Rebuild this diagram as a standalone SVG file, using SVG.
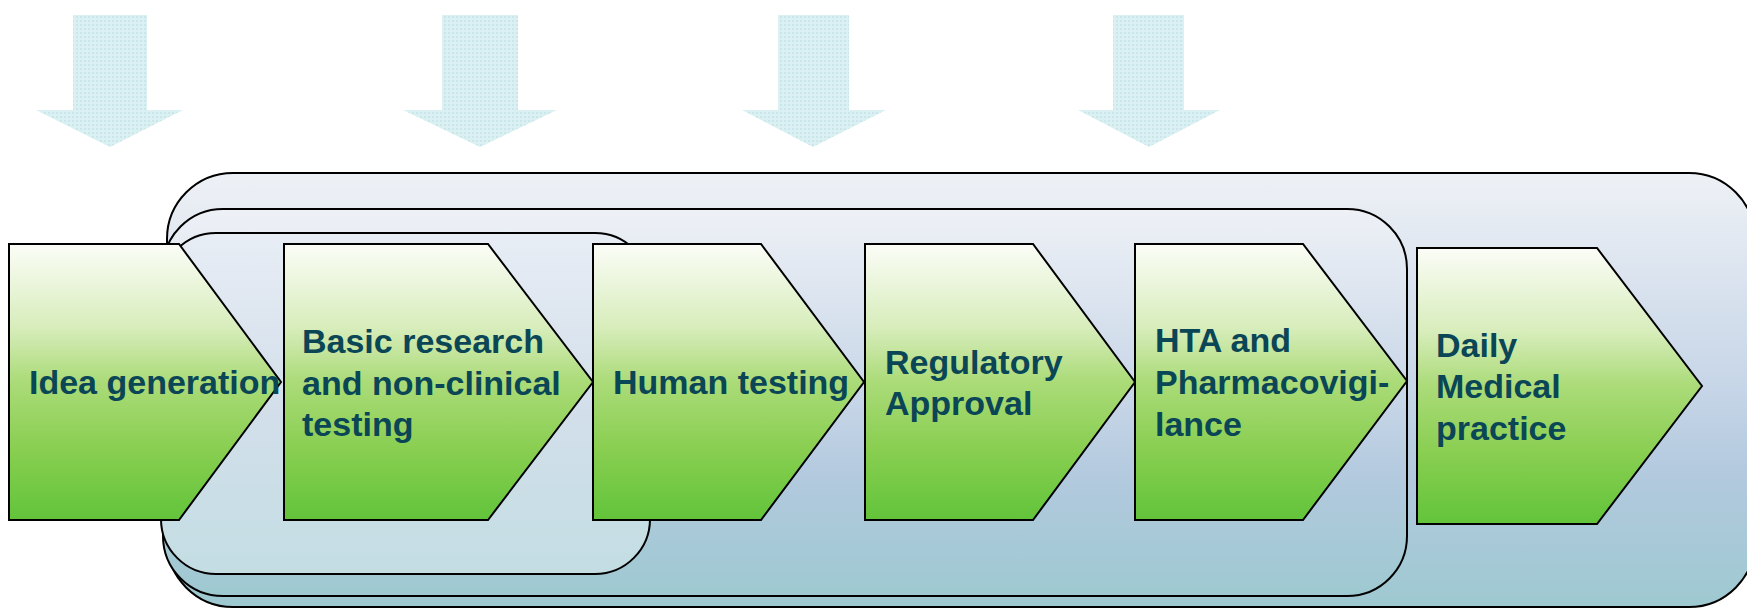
<svg xmlns="http://www.w3.org/2000/svg" width="1747" height="608" viewBox="0 0 1747 608">
<defs>
<linearGradient id="gBlue" x1="0" y1="0" x2="0" y2="1">
<stop offset="0" stop-color="#eef1f6"/>
<stop offset="0.5" stop-color="#c6d5e7"/>
<stop offset="0.7" stop-color="#b2c9de"/>
<stop offset="1" stop-color="#9ec9d1"/>
</linearGradient>
<linearGradient id="gBlueC" x1="0" y1="0" x2="0" y2="1">
<stop offset="0" stop-color="#e8edf5"/>
<stop offset="0.5" stop-color="#d3dfea"/>
<stop offset="1" stop-color="#c3dde3"/>
</linearGradient>
<linearGradient id="gGreen" x1="0" y1="0" x2="0" y2="1">
<stop offset="0" stop-color="#fbfdf7"/>
<stop offset="0.3" stop-color="#d8edbc"/>
<stop offset="0.5" stop-color="#abdb78"/>
<stop offset="0.75" stop-color="#88ce50"/>
<stop offset="1" stop-color="#62c43a"/>
</linearGradient>
<pattern id="dots" width="4" height="4" patternUnits="userSpaceOnUse">
<rect width="4" height="4" fill="#dbf0f2"/>
<rect width="2" height="2" fill="#c9e7ea"/>
</pattern>
</defs>
<style>
.arr{fill:url(#dots);stroke:none}
.box{stroke:#000;stroke-width:2}
.chev{fill:url(#gGreen);stroke:#000;stroke-width:2;stroke-linejoin:miter}
.lbl{font-family:"Liberation Sans",Arial,sans-serif;font-weight:bold;font-size:34px;fill:#0a4656}
</style>

<g id="arrows">
<polygon class="arr" points="73,15 147,15 147,110 183,110 110,147 36,110 73,110"/>
<polygon class="arr" points="442,15 518,15 518,110 557,110 480,147 403,110 442,110"/>
<polygon class="arr" points="778,15 849,15 849,110 886,110 813,147 742,110 778,110"/>
<polygon class="arr" points="1113,15 1184,15 1184,110 1220,110 1149,147 1078,110 1113,110"/>
</g>

<g id="frame-outer"><rect class="box" x="167" y="173" width="1588" height="434" rx="66" ry="66" fill="url(#gBlue)"/></g>
<g id="frame-middle"><rect class="box" x="163" y="209" width="1244" height="387" rx="60" ry="60" fill="url(#gBlue)"/></g>
<g id="frame-inner"><rect class="box" x="161" y="233" width="489" height="341" rx="55" ry="55" fill="url(#gBlueC)"/></g>

<g id="connectors"></g>

<g id="n1">
<polygon class="chev" points="9,244 179,244 281,382 179,520 9,520"/>
<text class="lbl" x="29" y="394">Idea generation</text>
</g>
<g id="n2">
<polygon class="chev" points="284,244 488,244 593,382 488,520 284,520"/>
<text class="lbl" x="302" y="353">Basic research</text>
<text class="lbl" x="302" y="394.5">and non-clinical</text>
<text class="lbl" x="302" y="436">testing</text>
</g>
<g id="n3">
<polygon class="chev" points="593,244 761,244 864,382 761,520 593,520"/>
<text class="lbl" x="613" y="394">Human testing</text>
</g>
<g id="n4">
<polygon class="chev" points="865,244 1033,244 1135,382 1033,520 865,520"/>
<text class="lbl" x="885" y="374">Regulatory</text>
<text class="lbl" x="885" y="415">Approval</text>
</g>
<g id="n5">
<polygon class="chev" points="1135,244 1303,244 1407,381 1303,520 1135,520"/>
<text class="lbl" x="1155" y="352">HTA and</text>
<text class="lbl" x="1155" y="394">Pharmacovigi-</text>
<text class="lbl" x="1155" y="436">lance</text>
</g>
<g id="n6">
<polygon class="chev" points="1417,248 1597,248 1702,386 1597,524 1417,524"/>
<text class="lbl" x="1436" y="357">Daily</text>
<text class="lbl" x="1436" y="398">Medical</text>
<text class="lbl" x="1436" y="440">practice</text>
</g>
</svg>
